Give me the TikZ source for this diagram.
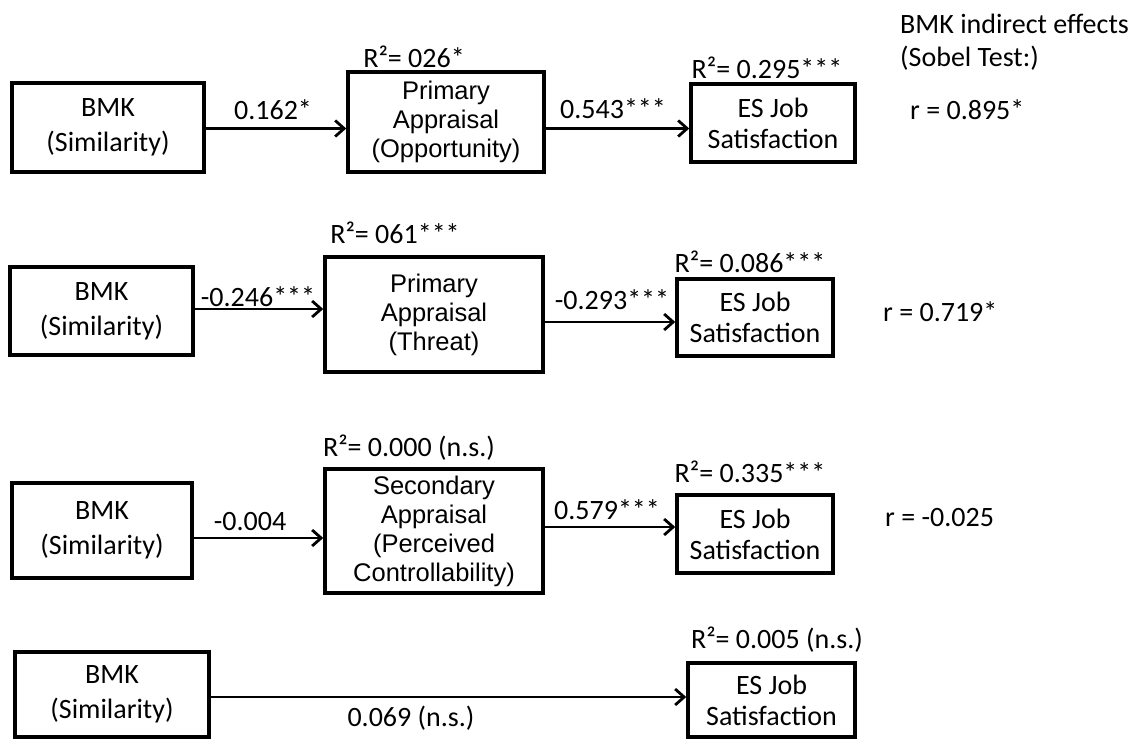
\documentclass[tikz,border=0pt]{standalone}
\usepackage{fontspec}
\setmainfont{Carlito}
\newfontfamily\arialf{Liberation Sans}
\usetikzlibrary{arrows.meta}
\begin{document}
\begin{tikzpicture}[x=1pt,y=-1pt,
  box/.style={draw=black,line width=3.5pt,rectangle,inner sep=0pt,align=center},
  srcbox/.style={box,font=\fontsize{28}{35}\selectfont},
  outbox/.style={box,font=\fontsize{28}{31}\selectfont},
  medbox/.style={box,font=\arialf\fontsize{25.5}{29}\selectfont},
  lbl/.style={inner sep=0pt,font=\fontsize{28}{32}\selectfont},
  arr/.style={line width=2.8pt,-{Straight Barb[length=9pt,width=16pt,line width=2.8pt]}}]
\useasboundingbox (0,0) rectangle (1142,740);

% header of the indirect-effects column
\node[lbl,anchor=west] (hd1) at (900,24) {BMK indirect effects};
\node[lbl,anchor=west] (hd2) at (900,58) {(Sobel Test:)};

% ---------- model 1: opportunity ----------
\node[srcbox,minimum width=192,minimum height=89] (bmk1) at (108,127.5) {BMK\\(Similarity)};
\node[medbox,minimum width=196,minimum height=100] (mid1) at (446,122) {Primary\\Appraisal\\(Opportunity)};
\node[outbox,minimum width=164,minimum height=78] (es1) at (773,123) {ES Job\\Satisfaction};
\coordinate (y1) at (0,128.5);
\draw[arr] (bmk1.east |- y1) -- (mid1.west |- y1);
\draw[arr] (mid1.east |- y1) -- (es1.west |- y1);
\node[lbl] (c1a) at (273,110) {0.162*};
\node[lbl] (c1b) at (613,109) {0.543***};
\node[lbl] (r1m) at (414,57) {R²= 026*};
\node[lbl] (r1e) at (767,68) {R²= 0.295***};
\node[lbl,anchor=west] (s1) at (910,110) {r = 0.895*};

% ---------- model 2: threat ----------
\node[srcbox,minimum width=183,minimum height=88] (bmk2) at (101.5,311) {BMK\\(Similarity)};
\node[medbox,minimum width=218,minimum height=115] (mid2) at (434,314.5) {Primary\\Appraisal\\(Threat)};
\node[outbox,minimum width=156,minimum height=77] (es2) at (755,317.5) {ES Job\\Satisfaction};
\coordinate (y2a) at (0,309);
\coordinate (y2b) at (0,322);
\draw[arr] (bmk2.east |- y2a) -- (mid2.west |- y2a);
\draw[arr] (mid2.east |- y2b) -- (es2.west |- y2b);
\node[lbl] (c2a) at (258,297) {-0.246***};
\node[lbl] (c2b) at (612,300) {-0.293***};
\node[lbl] (r2m) at (395,233) {R²= 061***};
\node[lbl] (r2e) at (750,262) {R²= 0.086***};
\node[lbl,anchor=west] (s2) at (883,312) {r = 0.719*};

% ---------- model 3: perceived controllability ----------
\node[srcbox,minimum width=180,minimum height=95] (bmk3) at (102,530.5) {BMK\\(Similarity)};
\node[medbox,minimum width=218,minimum height=124] (mid3) at (434,531) {Secondary\\Appraisal\\(Perceived\\Controllability)};
\node[outbox,minimum width=156,minimum height=78] (es3) at (755,534) {ES Job\\Satisfaction};
\coordinate (y3a) at (0,538);
\coordinate (y3b) at (0,527);
\draw[arr] (bmk3.east |- y3a) -- (mid3.west |- y3a);
\draw[arr] (mid3.east |- y3b) -- (es3.west |- y3b);
\node[lbl] (c3a) at (250,522) {-0.004};
\node[lbl] (c3b) at (607,510) {0.579***};
\node[lbl] (r3m) at (409,448) {R²= 0.000 (n.s.)};
\node[lbl] (r3e) at (750,472) {R²= 0.335***};
\node[lbl,anchor=west] (s3) at (885,518) {r = -0.025};

% ---------- model 4: direct path ----------
\node[srcbox,minimum width=194,minimum height=85] (bmk4) at (112,694.5) {BMK\\(Similarity)};
\node[outbox,minimum width=167,minimum height=74] (es4) at (771.5,700) {ES Job\\Satisfaction};
\coordinate (y4) at (0,697);
\draw[arr] (bmk4.east |- y4) -- (es4.west |- y4);
\node[lbl] (c4) at (411,718) {0.069 (n.s.)};
\node[lbl] (r4e) at (777,640) {R²= 0.005 (n.s.)};
\end{tikzpicture}
\end{document}
